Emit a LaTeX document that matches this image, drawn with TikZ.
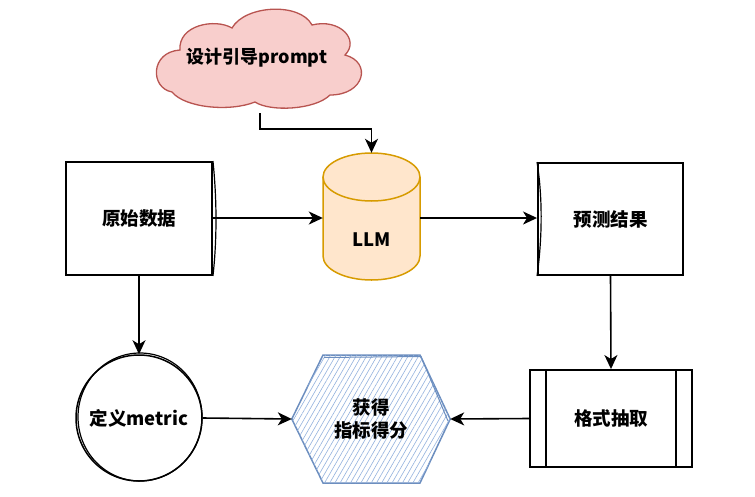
\documentclass[tikz,border=0pt]{standalone}
\usepackage{fontspec}
\setmainfont{Noto Sans CJK SC}
\usetikzlibrary{arrows.meta,patterns.meta}
\definecolor{cloudfill}{HTML}{F8CECC}
\definecolor{cloudline}{HTML}{B85450}
\definecolor{cylfill}{HTML}{FFE6CC}
\definecolor{cylline}{HTML}{D79B00}
\definecolor{hexline}{HTML}{6C8EBF}
\definecolor{hexhatch}{HTML}{93B2DE}
\begin{document}
\begin{tikzpicture}[x=1pt,y=-1pt,
  lbl/.style={font=\bfseries\fontsize{18.5}{24}\selectfont, align=center},
  box/.style={draw=black, line width=1.9pt, fill=white},
  sk/.style={draw=black, line width=1.2pt},
  holder/.style={inner sep=0pt, draw=none},
  tip/.tip={Stealth[length=14pt,width=13pt,inset=4pt]},
  arr/.style={draw=black, line width=1.6pt, -tip}
]
\useasboundingbox (0,0) rectangle (755,496);

% cloud
\node[holder, minimum width=200pt, minimum height=98pt] (cloud) at (260,58) {};
\draw[fill=cloudfill, draw=cloudline, line width=1.3pt]
  (172,92) .. controls (150,88) and (150,52) .. (180,50)
  .. controls (178,25) and (215,18) .. (232,28)
  .. controls (245,5) and (300,2) .. (312,25)
  .. controls (340,18) and (360,40) .. (345,55)
  .. controls (372,62) and (365,95) .. (330,95)
  .. controls (315,110) and (270,112) .. (255,102)
  .. controls (230,112) and (185,108) .. (172,92) -- cycle;
\node[font=\bfseries\fontsize{18}{20}\selectfont] (cloudtext) at (257,58) {设计引导prompt};

% raw data box
\node[box, lbl, minimum width=146pt, minimum height=113pt] (raw) at (139,218.5) {原始数据};
\draw[sk] (raw.north east) .. controls (217,200) and (217,240) .. (raw.south east);

% LLM cylinder
\node[holder, minimum width=97pt, minimum height=127pt] (llm) at (371.5,216.5) {};
\path[fill=cylfill] (323,177) -- (323,256)
  .. controls (323,269.25) and (344.7,280) .. (371.5,280)
  .. controls (398.3,280) and (420,269.25) .. (420,256)
  -- (420,177)
  .. controls (420,163.75) and (398.3,153) .. (371.5,153)
  .. controls (344.7,153) and (323,163.75) .. (323,177) -- cycle;
\draw[draw=cylline, line width=1.5pt] (323,177) -- (323,256)
  .. controls (323,269.25) and (344.7,280) .. (371.5,280)
  .. controls (398.3,280) and (420,269.25) .. (420,256)
  -- (420,177);
\draw[draw=cylline, line width=1.5pt] (371.5,177) ellipse [x radius=48.5, y radius=24];
\node[lbl] (llmtext) at (371.5,240) {LLM};

% prediction box
\node[box, lbl, minimum width=145pt, minimum height=112pt] (pred) at (610.5,219) {预测结果};
\draw[sk] (pred.north west) .. controls (543,200) and (542,240) .. (pred.south west);

% metric circle
\node[circle, draw=black, line width=1.5pt, fill=white, minimum size=126pt, inner sep=0pt, lbl] (metric) at (139,418) {定义metric};
\draw[sk] (140,417) ellipse [x radius=62, y radius=64];

% hexagon
\node[holder, minimum width=158pt, minimum height=128pt] (hex) at (371,419) {};
\draw[hexline, line width=1.5pt, fill=white,
      postaction={pattern={Lines[angle=60,distance=4.5pt,line width=0.6pt]}, pattern color=hexhatch}]
  (hex.west) -- (323,355) -- (420,355) -- (hex.east) -- (420,483) -- (323,483) -- cycle;
\draw[hexline, line width=1pt] (324,357.5) -- (421,356.5) -- (448,421);
\node[lbl] (hextext) at (hex.center) {获得\\[-1pt]指标得分};

% format extraction box (process)
\node[box, lbl, minimum width=162pt, minimum height=97pt] (fmt) at (611,418.5) {格式抽取};
\draw[line width=1.9pt] (546,370) -- (546,467);
\draw[line width=1.9pt] (676,370) -- (676,467);

% connectors
\draw[arr] (cloud.south |- 0,113) -- (cloud.south |- 0,129) -| (llm.north);
\draw[arr] (raw.east |- 0,218) -- (llm.west |- 0,218);
\draw[arr] (llm.east |- 0,218) -- (pred.west |- 0,218);
\draw[arr] (raw.south) -- (metric.north);
\draw[arr] (pred.south) -- (fmt.north);
\draw[arr] (metric.east) -- (hex.west);
\draw[arr] (fmt.west) -- (hex.east);
\end{tikzpicture}
\end{document}
